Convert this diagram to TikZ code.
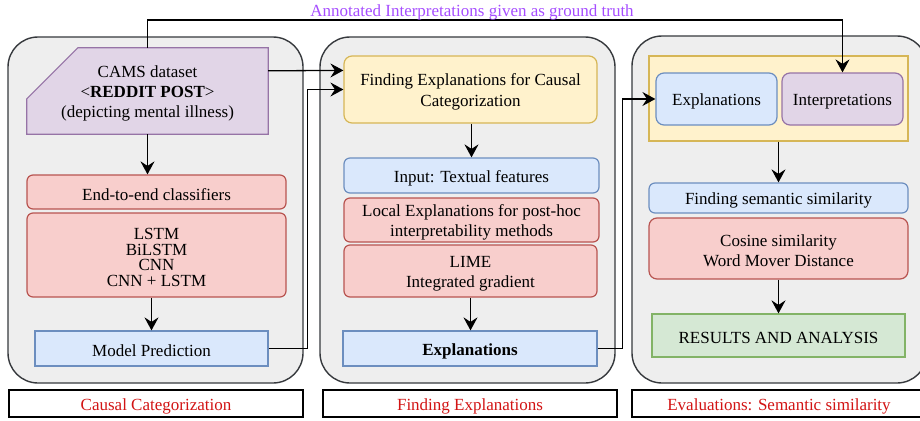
\documentclass[tikz,border=0pt]{standalone}
\usepackage{fontspec}
\setmainfont{Liberation Serif}
\usetikzlibrary{arrows.meta,calc,positioning}
\definecolor{pfill}{HTML}{EEEEEE}
\definecolor{pdraw}{HTML}{36393D}
\definecolor{bfill}{HTML}{DAE8FC}
\definecolor{bdraw}{HTML}{6C8EBF}
\definecolor{rfill}{HTML}{F8CECC}
\definecolor{rdraw}{HTML}{B85450}
\definecolor{yfill}{HTML}{FFF2CC}
\definecolor{ydraw}{HTML}{D6B656}
\definecolor{ufill}{HTML}{E1D5E7}
\definecolor{udraw}{HTML}{9673A6}
\definecolor{gfill}{HTML}{D5E8D4}
\definecolor{gdraw}{HTML}{82B366}
\definecolor{violet}{RGB}{166,77,255}
\definecolor{lblred}{RGB}{210,20,20}
\tikzset{
  every node/.style={font=\fontsize{17}{20.4}\selectfont, align=center, inner sep=1pt},
  panel/.style={draw=pdraw, fill=pfill, line width=1.4pt, rounded corners=30pt},
  bx/.style={line width=1.2pt},
  bluebox/.style={bx, draw=bdraw, fill=bfill},
  redbox/.style={bx, draw=rdraw, fill=rfill, rounded corners=6pt},
  yelbox/.style={bx, draw=ydraw, fill=yfill},
  purbox/.style={bx, draw=udraw, fill=ufill, rounded corners=6pt},
  grnbox/.style={bx, draw=gdraw, fill=gfill},
  lblbox/.style={draw=black, fill=white, line width=1.3pt, minimum width=294pt, minimum height=27pt},
  arr/.style={draw=black, line width=1.7pt, -{Stealth[length=13pt,width=14pt,inset=4.5pt]}},
  conn/.style={draw=black, line width=1.3pt, -{Stealth[length=13pt,width=14pt,inset=4.5pt]}}
}
% box node with its text set a little lower than the centre
\newcommand\boxnode[5][]{%
  \node[#2] (#3) at (#4) {};
  \node[#1] (#3-t) at ($(#3.center)+(0,2.5)$) {#5};}
\begin{document}
\begin{tikzpicture}[x=1pt,y=-1pt]
\path[use as bounding box] (0,0) rectangle (920,420);
\clip (0,0) rectangle (920,420);
% panels
\node[panel, minimum width=295pt, minimum height=346pt] (p1) at (155.5,210) {};
\node[panel, minimum width=295pt, minimum height=346pt] (p2) at (467.5,210) {};
\node[panel, minimum width=295pt, minimum height=347pt] (p3) at (779.5,209.5) {};
% labels
\boxnode[text=lblred]{lblbox}{l1}{156,403.5}{Causal Categorization}
\boxnode[text=lblred]{lblbox}{l2}{470,403.5}{Finding Explanations}
\boxnode[text=lblred]{lblbox}{l3}{779,403.5}{Evaluations: Semantic similarity}
% panel 1
\node[minimum width=241pt, minimum height=86pt] (cams) at (147.5,91) {};
\path[bx, draw=udraw, fill=ufill]
  ($(cams.north west)+(51,0)$) -- (cams.north east) -- (cams.south east) -- (cams.south west) -- ($(cams.north west)+(0,51)$) -- cycle;
\node (cams-t) at ($(cams.center)+(0,2.5)$) {CAMS dataset\\ \textless\textbf{REDDIT POST}\textgreater\\ (depicting mental illness)};
\boxnode{redbox, minimum width=259pt, minimum height=34pt}{e2e}{156.5,192}{End-to-end classifiers}
\boxnode[font=\fontsize{17}{15.7}\selectfont]{redbox, minimum width=259pt, minimum height=84pt}{lstm}{156.5,255}{LSTM\\BiLSTM\\CNN\\CNN + LSTM}
\boxnode{bluebox, minimum width=233pt, minimum height=35pt}{mp}{151.5,348.5}{Model Prediction}
% panel 2
\boxnode{yelbox, rounded corners=8pt, minimum width=253pt, minimum height=67pt}{fe}{470.5,89.5}{Finding Explanations for Causal\\Categorization}
\boxnode{bluebox, rounded corners=6pt, minimum width=255pt, minimum height=35pt}{inp}{471.5,175.5}{Input: Textual features}
\boxnode[font=\fontsize{17}{20}\selectfont]{redbox, minimum width=255pt, minimum height=44pt}{loc}{471.5,220}{Local Explanations for post-hoc\\interpretability methods}
\boxnode{redbox, minimum width=253pt, minimum height=52pt}{lime}{470.5,271}{LIME\\Integrated gradient}
\boxnode{bluebox, minimum width=254pt, minimum height=35pt}{expl}{470,348.5}{\textbf{Explanations}}
% panel 3
\node[yelbox, minimum width=259pt, minimum height=85pt] (cont) at (778.5,98.5) {};
\boxnode{bluebox, rounded corners=8pt, minimum width=121pt, minimum height=52pt}{ex3}{716.5,99}{Explanations}
\boxnode{purbox, rounded corners=8pt, minimum width=121pt, minimum height=52pt}{int3}{842.5,99}{Interpretations}
\boxnode{bluebox, rounded corners=6pt, minimum width=259pt, minimum height=30pt}{fss}{778.5,198}{Finding semantic similarity}
\boxnode{redbox, rounded corners=8pt, minimum width=259pt, minimum height=61pt}{cos}{778.5,248.5}{Cosine similarity\\Word Mover Distance}
\boxnode{grnbox, minimum width=253pt, minimum height=43pt}{res}{778.5,335.5}{RESULTS AND ANALYSIS}
% arrows inside panels
\draw[arr] (cams.south) -- (cams.south |- e2e.north);
\draw[arr] (mp.north |- lstm.south) -- (mp.north);
\draw[arr] (fe.south -| inp.north) -- (inp.north);
\draw[arr] (lime.south) -- (lime.south |- expl.north);
\draw[arr] (cont.south) -- (fss.north);
\draw[arr] (cos.south) -- (res.north);
% connectors between panels
\coordinate (top) at (500,20);
\draw[conn] (cams.north) |- (top) -| (int3.north);
\node[text=violet, inner sep=0pt] (ann) at (472,12.5) {Annotated Interpretations given as ground truth};
\draw[conn] ($(cams.north east)+(0,23)$) -- ($(fe.north west)+(0,15)$);
\draw[conn] (mp.east) -- ++(39,0) |- (fe.west);
\draw[conn] (expl.east) -- ++(25,0) |- (ex3.west);
\end{tikzpicture}
\end{document}
